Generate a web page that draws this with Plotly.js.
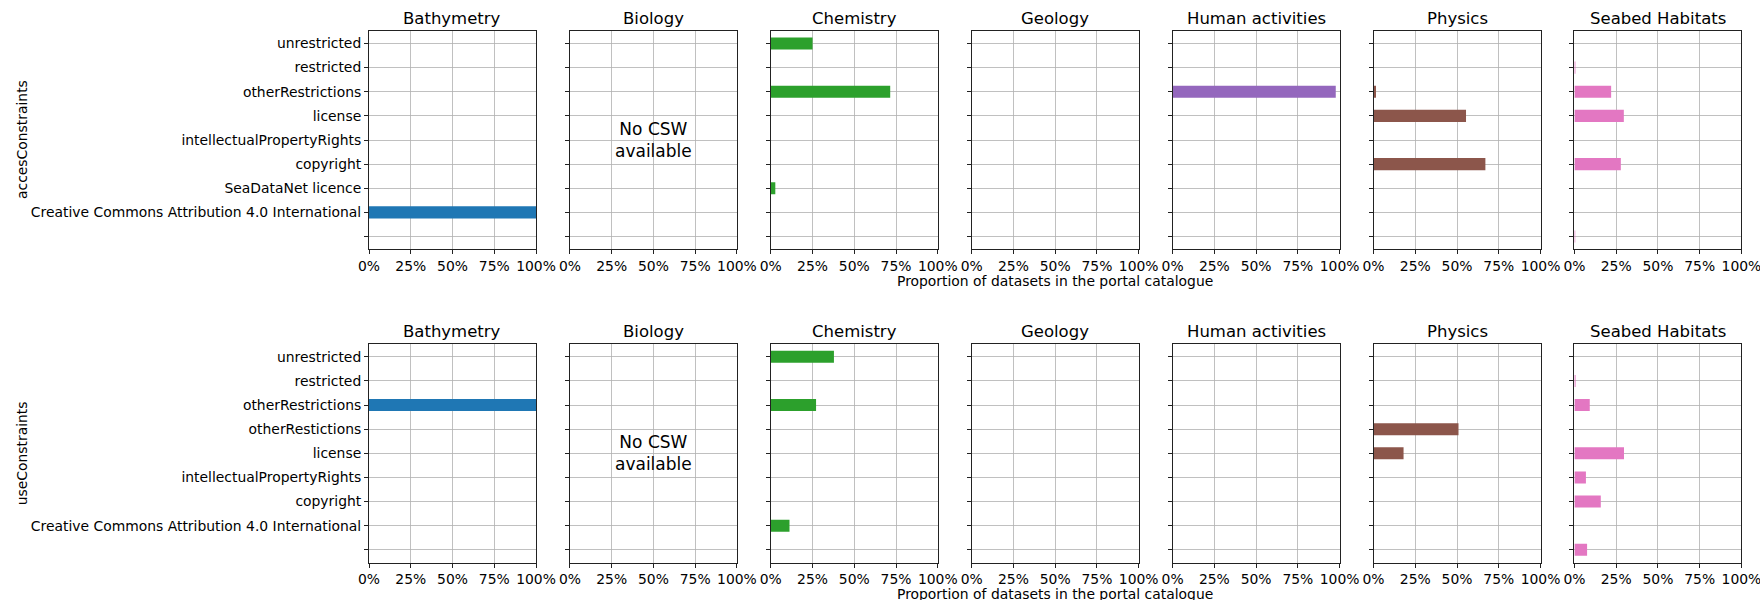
<!DOCTYPE html>
<html>
<head>
<meta charset="utf-8">
<script src="https://cdn.plot.ly/plotly-3.0.1.min.js"></script>
<style>html,body{margin:0;padding:0;background:#fff;}#chart{width:1760px;height:600px;}</style>
</head>
<body>
<div id="chart"></div>
<script>
// ---- data ----
const disciplines = ["Bathymetry", "Biology", "Chemistry", "Geology", "Human activities", "Physics", "Seabed Habitats"];
const disciplineColors = ["#1f77b4", "#ff7f0e", "#2ca02c", "#d62728", "#9467bd", "#8c564b", "#e377c2"];

const accessCategories = ["unrestricted", "restricted", "otherRestrictions", "license", "intellectualPropertyRights", "copyright", "SeaDataNet licence", "Creative Commons Attribution 4.0 International", " "];
const useCategories = ["unrestricted", "restricted", "otherRestrictions", "otherRestictions", "license", "intellectualPropertyRights", "copyright", "Creative Commons Attribution 4.0 International", " "];

// proportions (top-to-bottom category order)
const bathymetryAccess = [0, 0, 0, 0, 0, 0, 0, 1.0, 0];
const biologyAccess    = [null, null, null, null, null, null, null, null, null];
const chemistryAccess  = [0.25, 0, 0.715, 0, 0, 0, 0.027, 0, 0];
const geologyAccess    = [0, 0, 0, 0, 0, 0, 0, 0, 0];
const humanAccess      = [0, 0, 0.977, 0, 0, 0, 0, 0, 0];
const physicsAccess    = [0, 0, 0.015, 0.554, 0, 0.67, 0, 0, 0];
const seabedAccess     = [0, 0.006, 0.22, 0.296, 0, 0.278, 0, 0, 0.005];

const bathymetryUse = [0, 0, 1.0, 0, 0, 0, 0, 0, 0];
const biologyUse    = [null, null, null, null, null, null, null, null, null];
const chemistryUse  = [0.378, 0, 0.271, 0, 0, 0, 0, 0.112, 0];
const geologyUse    = [0, 0, 0, 0, 0, 0, 0, 0, 0];
const humanUse      = [0, 0, 0, 0, 0, 0, 0, 0, 0];
const physicsUse    = [0, 0, 0, 0.509, 0.18, 0, 0, 0, 0];
const seabedUse     = [0, 0.007, 0.092, 0, 0.297, 0.069, 0.158, 0, 0.076];

const rowTitles = ["accesConstraints", "useConstraints"];
const xTickVals = [0, 0.25, 0.5, 0.75, 1];
const xAxisLabel = "Proportion of datasets in the portal catalogue";
const noDataText = "No CSW<br>available";

// ---- layout ----
const W = 1760, H = 600;
const colLeft = 369, colStep = 200.9, colWidth = 167;
const rowTop = [30.7, 344], rowHeight = 218.6;
const font = "DejaVu Sans, Liberation Sans, sans-serif";

const rows = [
  {cats: accessCategories, series: [bathymetryAccess, biologyAccess, chemistryAccess, geologyAccess, humanAccess, physicsAccess, seabedAccess]},
  {cats: useCategories, series: [bathymetryUse, biologyUse, chemistryUse, geologyUse, humanUse, physicsUse, seabedUse]}
];

const traces = [];
const layout = {
  width: W, height: H, autosize: false,
  margin: {l: 0, r: 0, t: 0, b: 0, pad: 0},
  paper_bgcolor: "#fff", plot_bgcolor: "#fff",
  showlegend: false,
  font: {family: font, size: 13.9, color: "#000"},
  bargap: 0.5,
  annotations: []
};

rows.forEach((row, r) => {
  const yTop = 1 - rowTop[r] / H;
  const yBot = 1 - (rowTop[r] + rowHeight) / H;
  row.series.forEach((vals, c) => {
    const idx = r * 7 + c + 1;
    const sfx = idx === 1 ? "" : String(idx);
    const x0 = (colLeft + c * colStep) / W;
    const x1 = (colLeft + c * colStep + colWidth) / W;
    traces.push({
      type: "bar", orientation: "h",
      x: vals, y: row.cats,
      width: 0.5,
      marker: {color: disciplineColors[c], line: {width: 0}},
      xaxis: "x" + sfx, yaxis: "y" + sfx,
      hoverinfo: "x+y"
    });
    layout["xaxis" + sfx] = {
      domain: [x0, x1], anchor: "y" + sfx,
      range: [0, 1], tickvals: xTickVals, tickformat: ".0%", tickangle: 0,
      ticklabeloverflow: "allow",
      showgrid: true, gridcolor: "#b0b0b0", gridwidth: 0.8,
      zeroline: false,
      showline: true, mirror: true, linecolor: "#222", linewidth: 1,
      ticks: "outside", ticklen: 4, tickwidth: 1, tickcolor: "#222",
      tickfont: {size: 13.9, color: "#000"}, fixedrange: true
    };
    layout["yaxis" + sfx] = {
      domain: [yBot, yTop], anchor: "x" + sfx,
      type: "category", categoryorder: "array", categoryarray: row.cats,
      range: [row.cats.length - 1 + 0.53, -0.53],
      ticklabeloverflow: "allow",
      showgrid: true, gridcolor: "#b0b0b0", gridwidth: 0.8,
      zeroline: false,
      showline: true, mirror: true, linecolor: "#222", linewidth: 1,
      ticks: "outside", ticklen: 4, tickwidth: 1, tickcolor: "#222",
      showticklabels: c === 0,
      tickfont: {size: 13.9, color: "#000"}, fixedrange: true
    };
    // subplot title
    layout.annotations.push({
      text: disciplines[c], xref: "paper", yref: "paper",
      x: (x0 + x1) / 2, y: yTop, xanchor: "center", yanchor: "bottom", yshift: 1,
      showarrow: false, font: {size: 16.5, color: "#000", family: font}
    });
    if (vals.every(v => v === null)) {
      layout.annotations.push({
        text: noDataText, xref: "paper", yref: "paper",
        x: (x0 + x1) / 2, y: (yTop + yBot) / 2, xanchor: "center", yanchor: "middle",
        showarrow: false, font: {size: 17, color: "#000", family: font}
      });
    }
  });
  // row y title
  layout.annotations.push({
    text: rowTitles[r], xref: "paper", yref: "paper",
    x: 22 / W, y: (yTop + yBot) / 2, xanchor: "center", yanchor: "middle",
    textangle: -90, showarrow: false, font: {size: 13.9, color: "#000", family: font}
  });
  // x-axis label under the middle column
  layout.annotations.push({
    text: xAxisLabel, xref: "paper", yref: "paper",
    x: (colLeft + 3 * colStep + colWidth / 2) / W, y: 1 - (rowTop[r] + 250) / H,
    xanchor: "center", yanchor: "middle",
    showarrow: false, font: {size: 13.9, color: "#000", family: font}
  });
});

Plotly.newPlot("chart", traces, layout, {displayModeBar: false, staticPlot: true});
</script>
</body>
</html>
